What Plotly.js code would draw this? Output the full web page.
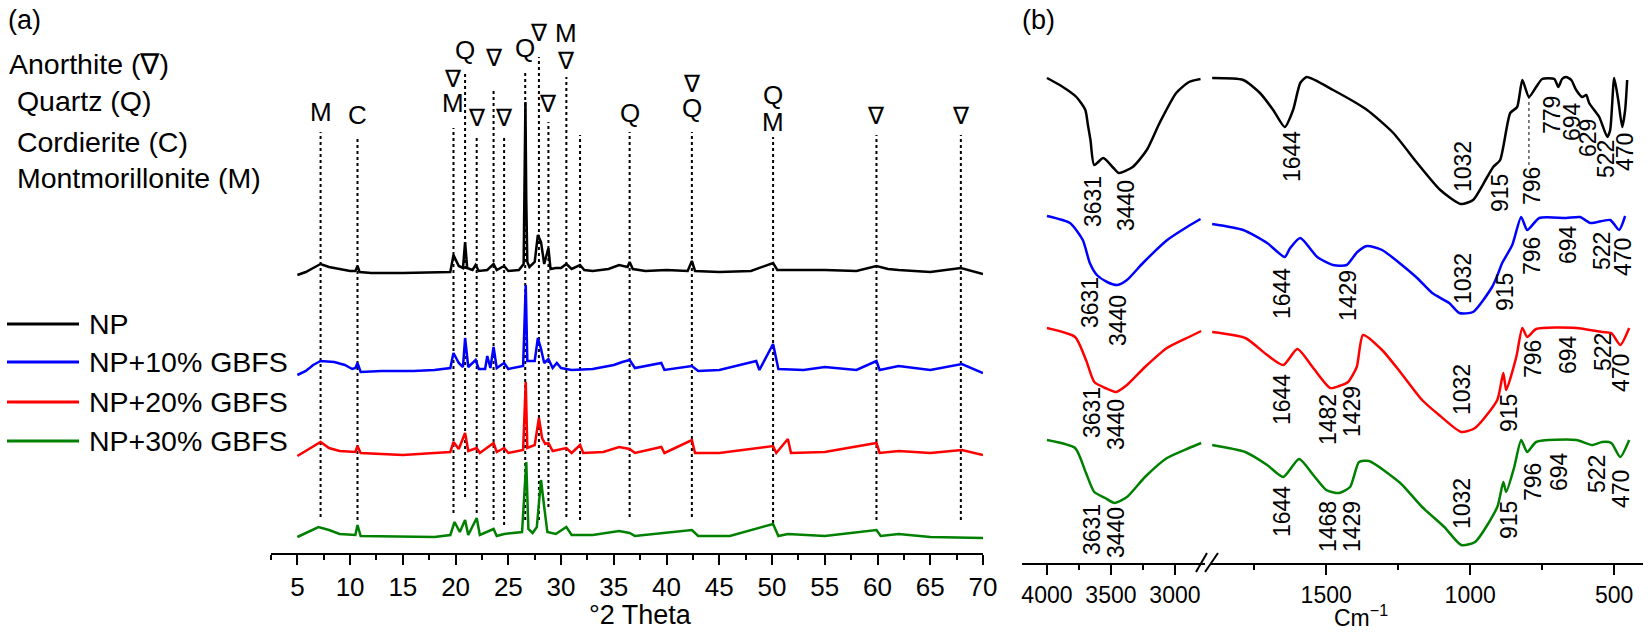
<!DOCTYPE html>
<html>
<head>
<meta charset="utf-8">
<script src="https://cdn.plot.ly/plotly-3.0.1.min.js"></script>
<style>
  html, body { margin: 0; padding: 0; background: #fff; }
  #chart { width: 1651px; height: 632px; }
</style>
</head>
<body>
<div id="chart"></div>
<script>
// ---- (a) XRD patterns, intensity above each pattern's own baseline (a.u.) ----
const seriesNames = ["NP", "NP+10% GBFS", "NP+20% GBFS", "NP+30% GBFS"];
const seriesColors = ["#000000", "#0000ff", "#ff0000", "#008000"];

const thetaNP = [5, 5.8, 6.5, 7.2, 8, 9, 10, 10.5, 10.7, 10.9, 12, 15, 18, 19.5, 19.8, 20.3, 20.7, 20.9, 21.1, 21.6, 21.9, 22.2, 23, 23.6, 23.9, 24.6, 25, 26, 26.45, 26.62, 26.7, 26.8, 27, 27.5, 27.8, 28.1, 28.4, 28.8, 29, 29.5, 30, 30.5, 31, 31.8, 32.2, 33, 34.5, 35.5, 36.3, 36.5, 36.8, 38, 40, 42, 42.4, 42.7, 45, 48, 50.1, 50.5, 55, 58, 59.9, 61, 62, 65, 67.9, 70];
const intNP   = [-3, 0, 4, 8, 5, 3, 1, 1, 6, 0, -1, -1, 0, 0, 17, 6, 4, 30, 4, 2, 7, 1, 2, 8, 2, 6, 1, 2, 8, 170, 72, 10, 5, 10, 37, 30, 8, 24, 3, 4, 4, 8, 3, 7, 2, 1, 3, 7, 5, 10, 3, 1, 2, 1, 11, 1, 0, 1, 9, 2, 2, 1, 6, 3, 2, 0, 4, -2];

const theta10 = [5, 5.8, 6.5, 7.2, 8.5, 9.5, 10.2, 10.5, 10.7, 11, 13, 16, 18, 19.5, 19.8, 20.3, 20.7, 20.9, 21.2, 21.9, 22.2, 22.8, 23, 23.3, 23.6, 23.9, 24.6, 25, 26.4, 26.65, 26.8, 27.5, 27.8, 28.1, 28.4, 28.8, 29.2, 29.6, 30, 31, 33, 35, 35.8, 36.5, 37, 39.5, 39.8, 42.4, 43, 45, 48.5, 48.8, 50.1, 50.3, 50.6, 53, 55, 58, 59.9, 60.2, 62, 65, 68, 70];
const int10   = [-4, 0, 6, 10, 9, 6, 2, 3, 8, -1, 0, 0, 1, 3, 18, 8, 4, 33, 4, 11, 2, 2, 15, 3, 24, 3, 8, 2, 5, 86, 10, 10, 33, 22, 8, 12, 3, 8, 3, 1, 2, 6, 9, 11, 3, 8, 1, 5, 0, 1, 10, 1, 27, 16, 2, 1, 4, 1, 10, 1, 5, 1, 7, -2];

const theta20 = [5, 6, 7.2, 8, 9, 10.5, 10.7, 11, 15, 18, 19.5, 19.8, 20.3, 20.9, 21.2, 22, 22.3, 23.6, 23.9, 24.6, 25, 26.4, 26.65, 26.8, 27.5, 27.9, 28.2, 28.5, 28.8, 29.2, 30.5, 31, 31.8, 32.1, 34, 35.5, 36.5, 37, 39.5, 39.8, 42.4, 42.7, 45, 50.1, 50.4, 51.5, 51.8, 55, 59.9, 60.2, 62, 65, 68, 70];
const int20   = [-3, 3, 11, 5, 2, 1, 7, 0, -2, 0, 1, 11, 4, 20, 2, 5, 0, 10, 1, 5, 0, 3, 71, 5, 8, 35, 15, 9, 10, 2, 5, 0, 8, 0, 1, 6, 4, 0, 6, 0, 13, 0, 0, 7, 0, 14, 0, 1, 10, 0, 2, 0, 3, -2];

const theta30 = [5, 6, 7, 8, 9, 10.5, 10.7, 11, 15, 18, 19.5, 19.9, 20.4, 20.9, 21.2, 22, 22.3, 23.6, 23.9, 24.6, 26.3, 26.7, 26.9, 27.3, 27.7, 28.1, 28.4, 28.7, 29.5, 30.5, 31, 33, 35.5, 36.5, 37, 39.5, 42.4, 43, 46, 50.1, 50.6, 51.5, 55, 59.9, 60.3, 62, 65, 70];
const int30   = [0, 5, 10, 7, 3, 2, 12, 1, 0, 0, 2, 15, 5, 17, 2, 19, 2, 8, 1, 3, 5, 75, 8, 4, 10, 57, 30, 5, 3, 10, 2, 2, 6, 4, 1, 4, 7, 1, 1, 13, 1, 3, 1, 7, 1, 3, 0, -1];

const xrdTheta = [thetaNP, theta10, theta20, theta30];
const xrdInt = [intNP, int10, int20, int30];
const xrdOffset = [281, 182, 100, 16];

// phase reflections: 2θ position and the phase letters stacked above it (bottom first)
const peakPos    = [7.2, 10.7, 19.8, 20.9, 22.0, 23.6, 24.6, 26.6, 27.9, 28.8, 30.5, 31.8, 36.5, 42.4, 50.1, 59.9, 67.9];
const peakLabels = [["M"], ["C"], ["M", "∇"], ["Q"], ["∇"], ["∇"], ["∇"], ["Q"], ["∇"], ["∇"], ["∇", "M"], [], ["Q"], ["Q", "∇"], ["M", "Q"], ["∇"], ["∇"]];
const phaseKey = ["Anorthite (∇)", " Quartz (Q)", " Cordierite (C)", " Montmorillonite (M)"];

// ---- (b) FTIR spectra, transmittance above each spectrum's own minimum (a.u.) ----
const wnNP = [4000, 3900, 3770, 3700, 3680, 3660, 3631, 3560, 3480, 3440, 3330, 3220, 3120, 2990, 2890, 2800,
  1896, 1788, 1730, 1684, 1644, 1615, 1590, 1567, 1476, 1358, 1267, 1184, 1104, 1032, 990, 941, 920, 896, 861, 837, 819, 796, 771, 750, 708, 694, 681, 667, 649, 632, 611, 597, 587, 552, 524, 514, 500, 486, 472, 462, 455];
const tNP = [126, 119, 107, 94, 79, 64, 39, 46, 36, 31, 37, 54, 81, 111, 122, 125,
  126, 124, 111, 94, 77, 94, 121, 127, 114, 94, 71, 41, 14, 0, 4, 27, 37, 44, 91, 97, 124, 107, 117, 125, 125, 117, 125, 127, 124, 114, 107, 109, 101, 87, 67, 74, 126, 104, 77, 94, 124];

const wn10 = [4000, 3820, 3720, 3665, 3610, 3530, 3450, 3375, 3250, 3060, 2906, 2800,
  1896, 1788, 1705, 1644, 1625, 1590, 1531, 1476, 1429, 1392, 1358, 1306, 1188, 1132, 1073, 1038, 990, 924, 905, 889, 854, 823, 802, 760, 667, 618, 583, 514, 483, 462];
const t10 = [97, 90, 73, 50, 38, 31, 28, 33, 50, 73, 86, 94,
  89, 83, 70, 56, 65, 75, 56, 48, 48, 61, 67, 63, 36, 20, 10, 0, 1, 26, 38, 50, 68, 96, 83, 95, 95, 96, 90, 93, 83, 97];

const wn20 = [4000, 3780, 3695, 3630, 3545, 3460, 3375, 3234, 3062, 2890, 2795,
  1896, 1781, 1705, 1649, 1600, 1545, 1486, 1455, 1424, 1394, 1372, 1306, 1243, 1167, 1108, 1031, 983, 906, 885, 875, 840, 819, 802, 771, 632, 542, 510, 479, 448];
const t20 = [104, 95, 72, 50, 44, 40, 47, 65, 84, 95, 101,
  100, 94, 77, 67, 83, 64, 44, 46, 50, 65, 97, 82, 60, 32, 17, 0, 4, 32, 59, 42, 75, 104, 95, 103, 104, 100, 99, 87, 104];

const wn30 = [4000, 3780, 3695, 3630, 3545, 3470, 3375, 3234, 3062, 2890, 2795,
  1896, 1781, 1705, 1649, 1594, 1545, 1500, 1455, 1417, 1386, 1351, 1243, 1167, 1090, 1031, 983, 906, 885, 875, 847, 823, 802, 771, 632, 577, 542, 510, 479, 448];
const t30 = [105, 97, 72, 53, 47, 42, 48, 68, 87, 97, 102,
  100, 93, 80, 68, 86, 70, 55, 52, 58, 83, 84, 62, 38, 18, 0, 3, 38, 63, 53, 78, 105, 93, 103, 105, 100, 103, 102, 88, 105];

const ftirWn = [wnNP, wn10, wn20, wn30];
const ftirT = [tNP, t10, t20, t30];
const ftirOffset = [359, 250, 131, 18];

// band labels per spectrum
const bandLabels = [
  ["3631", "3440", "1644", "1032", "915", "796", "779", "694", "629", "522", "470"],
  ["3631", "3440", "1644", "1429", "1032", "915", "796", "694", "522", "470"],
  ["3631", "3440", "1644", "1482", "1429", "1032", "915", "796", "694", "522", "470"],
  ["3631", "3440", "1644", "1468", "1429", "1032", "915", "796", "694", "522", "470"]
];

// ---------------- layout helpers (pixel -> paper) ----------------
const W = 1651, H = 632;
const FONT = "Liberation Sans, Arial, Helvetica, sans-serif";
const px = (x) => x / W;
const py = (y) => 1 - y / H;
const AX_A = 553, AX_B = 563;   // pixel rows of the two x axis lines

// where each band label sits, in pixels (centre), same order as bandLabels
const bandLabelPos = [
  [[1093, 202], [1126, 206], [1292, 157], [1463, 167], [1500, 193], [1532, 186], [1552, 115], [1572, 122], [1588, 138], [1606, 159], [1625, 152]],
  [[1090, 303], [1118, 321], [1282, 294], [1348, 296], [1463, 279], [1505, 292], [1532, 256], [1568, 245], [1602, 251], [1623, 257]],
  [[1092, 413], [1116, 425], [1282, 400], [1328, 420], [1352, 412], [1462, 390], [1509, 413], [1533, 359], [1568, 355], [1603, 352], [1621, 373]],
  [[1092, 530], [1116, 533], [1282, 512], [1328, 527], [1352, 527], [1462, 504], [1509, 520], [1533, 482], [1559, 472], [1597, 474], [1621, 489]]
];
// dotted guide lines of panel (a): top / bottom pixel rows, and label rows
const guideTop    = [132, 137, 128, 72, 135, 88, 138, 73, 57, 122, 77, 135, 132, 132, 137, 135, 135];
const guideBottom = [517, 520, 513, 497, 513, 520, 525, 520, 520, 507, 517, 520, 517, 517, 523, 520, 520];
const labelRows   = [[112], [115], [103, 78], [50], [117], [57], [117], [48], [32], [103], [60, 33], [], [113], [108, 83], [122, 95], [115], [115]];

const traces = [];
xrdTheta.forEach((th, i) => {
  traces.push({
    x: th, y: xrdInt[i].map((v) => v + xrdOffset[i]),
    type: "scatter", mode: "lines", xaxis: "x", yaxis: "y",
    line: { color: seriesColors[i], width: 2.5 },
    name: seriesNames[i], showlegend: false, hoverinfo: "skip",
  });
});
ftirWn.forEach((wn, i) => {
  const hi = wn.map((w, k) => [w, ftirT[i][k]]).filter((p) => p[0] > 2000);
  const lo = wn.map((w, k) => [w, ftirT[i][k]]).filter((p) => p[0] < 2000);
  [[hi, "x2"], [lo, "x3"]].forEach(([pts, xa]) => {
    traces.push({
      x: pts.map((p) => p[0]), y: pts.map((p) => p[1] + ftirOffset[i]),
      type: "scatter", mode: "lines", xaxis: xa, yaxis: "y2",
      line: { color: seriesColors[i], width: 2.5, shape: "spline", smoothing: 0.6 },
      name: seriesNames[i], showlegend: false, hoverinfo: "skip",
    });
  });
});

const shapes = [];
const annotations = [];
const txt = (text, x, y, size, extra) => Object.assign({
  text, x, y, xref: "paper", yref: "paper", showarrow: false,
  font: { family: FONT, size, color: "black" }, xanchor: "center", yanchor: "middle",
}, extra || {});

// guide lines + phase letters
peakPos.forEach((p, i) => {
  shapes.push({
    type: "line", layer: "below", xref: "x", yref: "y",
    x0: p, x1: p, y0: AX_A - guideBottom[i], y1: AX_A - guideTop[i],
    line: { color: "black", width: 2, dash: "dot" },
  });
  peakLabels[i].forEach((lab, k) => {
    annotations.push({
      text: lab, x: p, y: AX_A - labelRows[i][k], xref: "x", yref: "y",
      showarrow: false, font: { family: FONT, size: lab === "∇" ? 24 : 26, color: "black" },
      xanchor: "center", yanchor: "middle",
    });
  });
});

// phase key and panel tags
annotations.push(txt("(a)", px(6), py(20), 27, { xanchor: "left" }));
annotations.push(txt("(b)", px(1020), py(20), 27, { xanchor: "left" }));
[64, 101, 142, 178].forEach((row, i) => {
  annotations.push(txt(phaseKey[i], px(7), py(row), 28.5, { xanchor: "left" }));
});

// legend drawn by hand (long line samples)
[324, 362, 402, 441].forEach((row, i) => {
  shapes.push({
    type: "line", xref: "paper", yref: "paper",
    x0: px(7), x1: px(79), y0: py(row), y1: py(row),
    line: { color: seriesColors[i], width: 3 },
  });
  annotations.push(txt(seriesNames[i], px(87), py(row), 28.5, { xanchor: "left" }));
});

// axis titles
annotations.push(txt("°2 Theta", px(640), py(615), 27));
annotations.push(txt("Cm<sup>−1</sup>", px(1361), py(616), 23));

// band labels, rotated
bandLabels.forEach((labs, i) => {
  labs.forEach((lab, k) => {
    const [cx, cy] = bandLabelPos[i][k];
    annotations.push(txt(lab, px(cx), py(cy), 23, { textangle: -90 }));
  });
});

// thin dotted marker at 796 on the NP spectrum
shapes.push({
  type: "line", xref: "x3", yref: "y2", x0: 796, x1: 796,
  y0: AX_B - 165, y1: AX_B - 97, line: { color: "black", width: 1, dash: "dot" },
});

// axis break marks
[[1196, 1207], [1205, 1218]].forEach(([a, b]) => {
  shapes.push({
    type: "line", xref: "paper", yref: "paper",
    x0: px(a), x1: px(b), y0: py(572), y1: py(553),
    line: { color: "black", width: 2 },
  });
});

const tickAxis = (size) => ({
  showline: true, linewidth: 2, linecolor: "black", mirror: false,
  ticks: "outside", ticklen: 10, tickwidth: 2, tickcolor: "black",
  showgrid: false, zeroline: false,
  tickfont: { family: FONT, size, color: "black" },
});

const layout = {
  width: W, height: H,
  margin: { l: 0, r: 0, t: 0, b: 0 },
  paper_bgcolor: "white", plot_bgcolor: "rgba(0,0,0,0)",
  showlegend: false,
  xaxis: Object.assign(tickAxis(26), {
    domain: [px(271), px(983)], range: [2.5, 70], anchor: "y",
    tick0: 0, dtick: 5,
    minor: { dtick: 2.5, ticks: "outside", ticklen: 5, tickwidth: 2, tickcolor: "black", showgrid: false },
  }),
  yaxis: { domain: [1 - AX_A / H, 1], range: [0, AX_A], visible: false, anchor: "x", fixedrange: true },
  xaxis2: Object.assign(tickAxis(23), {
    domain: [px(1022), px(1205)], range: [4195, 2765], anchor: "y2",
    tick0: 0, dtick: 500,
    minor: { dtick: 250, ticks: "outside", ticklen: 5, tickwidth: 2, tickcolor: "black", showgrid: false },
  }),
  xaxis3: Object.assign(tickAxis(23), {
    domain: [px(1211), px(1643)], range: [1900, 400], anchor: "y2",
    tick0: 0, dtick: 500,
    minor: { dtick: 250, ticks: "outside", ticklen: 5, tickwidth: 2, tickcolor: "black", showgrid: false },
  }),
  yaxis2: { domain: [1 - AX_B / H, 1], range: [0, AX_B], visible: false, anchor: "x2", fixedrange: true },
  shapes, annotations,
};

Plotly.newPlot("chart", traces, layout, { staticPlot: true, displayModeBar: false });
</script>
</body>
</html>
